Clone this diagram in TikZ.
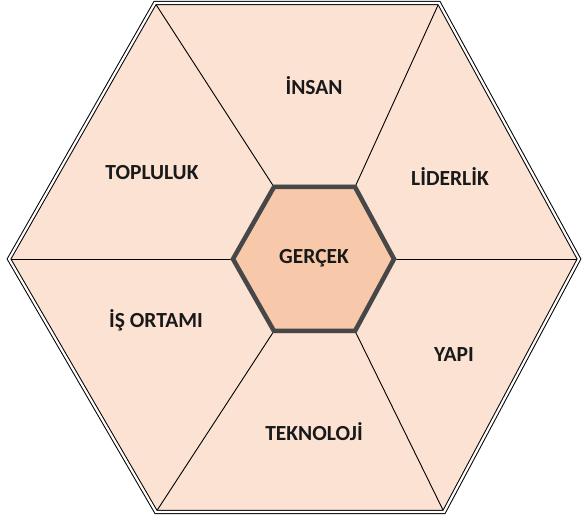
\documentclass[tikz,border=0pt]{standalone}
\usepackage{fontspec}
\setmainfont{Carlito}
\definecolor{segfill}{HTML}{FBE2D3}
\definecolor{corefill}{HTML}{F7C9AA}
\definecolor{coreline}{HTML}{474747}
\begin{document}
\begin{tikzpicture}[x=1pt,y=-1pt,
  lab/.style={font=\fontsize{21.5}{25}\selectfont\bfseries, text=black!90, inner sep=0pt, anchor=base},
  spoke/.style={draw=black, line width=0.9pt},
  outerborder/.style={draw=black, line width=1pt, double=white, double distance=2.2pt, line join=miter},
  coreborder/.style={draw=coreline, line width=4.5pt, line join=miter, fill=corefill}]
\useasboundingbox (0,0) rectangle (584,521);
% outer vertices
\coordinate (oL) at (9,259);
\coordinate (oTL) at (155,3);
\coordinate (oTR) at (439,3);
\coordinate (oR) at (579,259);
\coordinate (oBR) at (444,512);
\coordinate (oBL) at (156,512);
% inner vertices
\coordinate (iL) at (233,259);
\coordinate (iTL) at (274,187);
\coordinate (iTR) at (355,187);
\coordinate (iR) at (394,259);
\coordinate (iBR) at (355,331);
\coordinate (iBL) at (274,331);
% background
\fill[segfill] (oL) -- (oTL) -- (oTR) -- (oR) -- (oBR) -- (oBL) -- cycle;
% spokes
\draw[spoke] (oL) -- (iL);
\draw[spoke] (oTL) -- (iTL);
\draw[spoke] (oTR) -- (iTR);
\draw[spoke] (oR) -- (iR);
\draw[spoke] (oBR) -- (iBR);
\draw[spoke] (oBL) -- (iBL);
% core shadow
\draw[draw=black!25, line width=4.5pt, line join=miter, shift={(1.8,1.8)}]
  (iL) -- (iTL) -- (iTR) -- (iR) -- (iBR) -- (iBL) -- cycle;
% core
\path[coreborder] (iL) -- (iTL) -- (iTR) -- (iR) -- (iBR) -- (iBL) -- cycle;
% outer border
\path[outerborder] (oL) -- (oTL) -- (oTR) -- (oR) -- (oBR) -- (oBL) -- cycle;
% labels
\node[lab] (insan) at (314,95) {İNSAN};
\node[lab] (liderlik) at (450,186) {LİDERLİK};
\node[lab] (topluluk) at (152,180) {TOPLULUK};
\node[lab] (gercek) at (314,264) {GERÇEK};
\node[lab] (isortami) at (156,328) {İŞ ORTAMI};
\node[lab] (yapi) at (454,362) {YAPI};
\node[lab] (teknoloji) at (314,440) {TEKNOLOJİ};
\end{tikzpicture}
\end{document}
